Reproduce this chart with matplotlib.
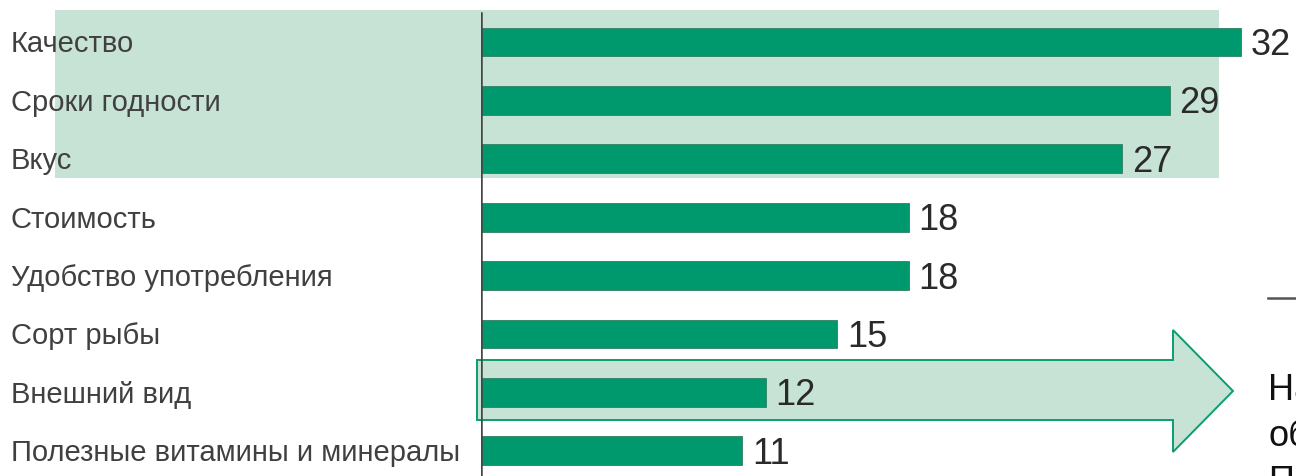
import matplotlib
matplotlib.use("Agg")
import matplotlib.pyplot as plt
from matplotlib.patches import Rectangle, Polygon
from matplotlib.transforms import blended_transform_factory

categories = ["Качество", "Сроки годности", "Вкус", "Стоимость",
              "Удобство употребления", "Сорт рыбы", "Внешний вид",
              "Полезные витамины и минералы"]
values = [32, 29, 27, 18, 18, 15, 12, 11]
side_text = ["На", "об", "По"]

W, H = 1296, 476
plt.rcParams['font.family'] = ['Liberation Sans', 'DejaVu Sans']
fig = plt.figure(figsize=(W / 100, H / 100), dpi=100)

x0_px = 481
px_per_unit = 23.75
y0_px = 42
step_px = 58.4

ax = fig.add_axes([x0_px / W, 0, 1 - x0_px / W, 1])
ax.set_xlim(0, (W - x0_px) / px_per_unit)
ax.set_ylim((H - y0_px) / step_px, -y0_px / step_px)
ax.axis('off')

bar_color = "#00996E"
light = "#C6E3D5"
edge_green = "#0A9E6E"

def fx(p):
    return p / W

def fy(p):
    return 1 - p / H

# highlight rectangle behind top three rows
ax.add_patch(Rectangle((fx(55), fy(178)), fx(1219) - fx(55), fy(10) - fy(178),
                       transform=fig.transFigure, facecolor=light, edgecolor='none',
                       clip_on=False, zorder=0))

# arrow shape
pts = [(477, 360), (1173, 360), (1173, 330), (1233, 391), (1173, 452), (1173, 420), (477, 420)]
ax.add_patch(Polygon([(fx(a), fy(b)) for a, b in pts], closed=True,
                     transform=fig.transFigure, facecolor=light, edgecolor=edge_green,
                     linewidth=1.4, clip_on=False, zorder=0.5))

ypos = list(range(len(categories)))
ax.barh(ypos, values, height=0.49, color=bar_color, edgecolor="#2f7f62",
        linewidth=0.6, zorder=2)

# axis line
ax.axvline(0, ymin=0, ymax=1 - 13 / H, color="#454545", linewidth=1.8, zorder=3)

# category labels
lab_fs = 21
tr = blended_transform_factory(fig.transFigure, ax.transData)
for y, c in zip(ypos, categories):
    ax.annotate(c, xy=(fx(11), y), xycoords=tr, xytext=(0, -0.716 * lab_fs / 2),
                textcoords='offset points', ha='left', va='baseline',
                fontsize=lab_fs, color="#404040", zorder=4, annotation_clip=False)

# value labels
val_fs = 26
for y, v in zip(ypos, values):
    ax.annotate(str(v), xy=(v, y), xytext=(7, -0.716 * val_fs / 2),
                textcoords='offset points', ha='left', va='baseline',
                fontsize=val_fs, color="#2a2a2a", zorder=4, annotation_clip=False)

# right side partial text and line
for i, t in enumerate(side_text):
    fig.text(fx(1268), fy(400 + 46 * i), t, ha='left', va='baseline',
             fontsize=26, color="#111111")
ax.plot([fx(1268), fx(1300)], [fy(298), fy(298)], transform=fig.transFigure,
        color="#555555", linewidth=1.8, clip_on=False)

fig.savefig("out.png", dpi=100)
